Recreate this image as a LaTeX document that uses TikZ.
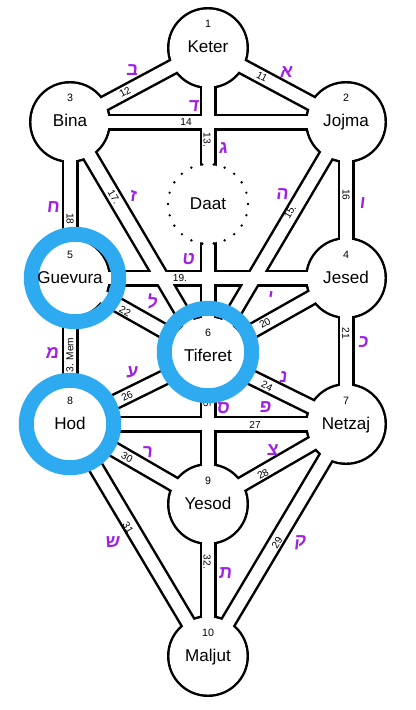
\documentclass[tikz,border=0pt]{standalone}
\usepackage{fontspec}
\setmainfont{Liberation Sans}
\newfontfamily\hebreo[Script=Hebrew,FakeSlant=0.12]{Liberation Sans Bold}
\usepackage{tikz}
\usepackage{xcolor}
\TeXXeTstate=1
\definecolor{morado}{RGB}{160,32,230}
\definecolor{celeste}{RGB}{46,170,240}
\tikzstyle{nombre} = [font=\fontsize{12.8}{14}\selectfont, anchor=base, inner sep=0pt]
\tikzstyle{numero} = [font=\fontsize{8}{9}\selectfont, anchor=base, inner sep=0pt]
\tikzstyle{sendero} = [font=\fontsize{7.6}{9}\selectfont, inner sep=0pt]
\tikzstyle{letra} = [font=\hebreo\fontsize{13.5}{15}\selectfont, text=morado, inner sep=0pt]
\tikzstyle{anillo} = [draw=celeste, line width=11.25pt]
\newcommand{\heb}[1]{\beginR #1\endR}

\begin{document}
\begin{tikzpicture}[x=0.75pt,y=-0.75pt]
  \useasboundingbox (0,0) rectangle (415,710);
  \coordinate (keter) at (208,48);
  \coordinate (bina) at (70,122);
  \coordinate (jojma) at (346,122);
  \coordinate (daat) at (208,204);
  \coordinate (guevura) at (70,278);
  \coordinate (jesed) at (346,278);
  \coordinate (tiferet) at (208,356);
  \coordinate (hod) at (70,424);
  \coordinate (netzaj) at (346,424);
  \coordinate (yesod) at (208,504);
  \coordinate (maljut) at (208,656);
  \def\senderos{keter/jojma,keter/bina,keter/tiferet,bina/jojma,jojma/tiferet,jojma/jesed,bina/tiferet,bina/guevura,guevura/jesed,jesed/tiferet,jesed/netzaj,guevura/tiferet,guevura/hod,tiferet/netzaj,tiferet/yesod,hod/tiferet,hod/netzaj,netzaj/yesod,netzaj/maljut,hod/yesod,hod/maljut,yesod/maljut}
  \def\sefirot{keter,bina,jojma,guevura,jesed,tiferet,hod,netzaj,yesod,maljut}

  % canales: borde negro, luego el interior blanco
  \foreach \a/\b in \senderos \draw[line width=12.75pt] (\a) -- (\b);
  \foreach \s in \sefirot \fill (\s) circle (30.75pt);
  \foreach \a/\b in \senderos \draw[white, line width=9pt] (\a) -- (\b);
  \foreach \s in \sefirot \fill[white] (\s) circle (28.9pt);
  \fill[white] (daat) circle (29.25pt);
  \draw[line width=2pt, line cap=round, dash pattern=on 0pt off 8.568pt] (daat) circle (30pt);

  % numeros de los senderos
  \node[sendero, rotate=-28] (s11) at (262,77) {11};
  \node[sendero, rotate=28] (s12) at (125,92) {12};
  \node[sendero, rotate=-90] (s13) at (207,140) {13.};
  \node[sendero] (s14) at (186,122) {14};
  \node[sendero, rotate=59.4] (s15) at (290,212) {15.};
  \node[sendero, rotate=-90] (s16) at (346,195) {16};
  \node[sendero, rotate=-59.4] (s17) at (114,197) {17.};
  \node[sendero, rotate=-90] (s18) at (70,219) {18};
  \node[sendero] (s19) at (180,278) {19.};
  \node[sendero, rotate=29.5] (s20) at (265,323) {20};
  \node[sendero, rotate=-90] (s21) at (346,333) {21};
  \node[sendero, rotate=-29.5] (s22) at (125,311) {22};
  \node[sendero, rotate=90] (s23) at (70,358) {23. Mem};
  \node[sendero, rotate=-26.6] (s24) at (267,386) {24};
  \node[sendero, rotate=-90] (s25) at (207,401) {25};
  \node[sendero, rotate=26.6] (s26) at (127,396) {26};
  \node[sendero] (s27) at (255,425) {27};
  \node[sendero, rotate=29.5] (s28) at (263,474) {28};
  \node[sendero, rotate=59.3] (s29) at (277,543) {29};
  \node[sendero, rotate=-29.5] (s30) at (127,457) {30};
  \node[sendero, rotate=-59.3] (s31) at (128,528) {31};
  \node[sendero, rotate=-90] (s32) at (207,562) {32.};

  % anillos
  \draw[anillo] ([xshift=3.75pt]guevura) circle (32.8pt);
  \draw[anillo] ([yshift=3pt]tiferet) circle (32.8pt);
  \draw[anillo] (hod) circle (32.8pt);

  % nombres y numeros de las sefirot
  \node[nombre] (Keter) at ([yshift=-3.75pt]keter) {Keter};
  \node[nombre] (Bina) at ([yshift=-3.75pt]bina) {Bina};
  \node[nombre] (Jojma) at ([yshift=-3.75pt]jojma) {Jojma};
  \node[nombre] (Daat) at ([yshift=-3.75pt]daat) {Daat};
  \node[nombre] (Guevura) at ([yshift=-3.75pt]guevura) {Guevura};
  \node[nombre] (Jesed) at ([yshift=-3.75pt]jesed) {Jesed};
  \node[nombre] (Tiferet) at ([yshift=-3.75pt]tiferet) {Tiferet};
  \node[nombre] (Hod) at ([yshift=-3.75pt]hod) {Hod};
  \node[nombre] (Netzaj) at ([yshift=-3.75pt]netzaj) {Netzaj};
  \node[nombre] (Yesod) at ([yshift=-3.75pt]yesod) {Yesod};
  \node[nombre] (Maljut) at ([yshift=-3.75pt]maljut) {Maljut};
  \node[numero] (n1) at ([yshift=15pt]keter) {1};
  \node[numero] (n2) at ([yshift=15pt]jojma) {2};
  \node[numero] (n3) at ([yshift=15pt]bina) {3};
  \node[numero] (n4) at ([yshift=15pt]jesed) {4};
  \node[numero] (n5) at ([yshift=15pt]guevura) {5};
  \node[numero] (n6) at ([yshift=15pt]tiferet) {6};
  \node[numero] (n7) at ([yshift=15pt]netzaj) {7};
  \node[numero] (n8) at ([yshift=15pt]hod) {8};
  \node[numero] (n9) at ([yshift=15pt]yesod) {9};
  \node[numero] (n10) at ([yshift=15pt]maljut) {10};

  % letras
  \node[letra] (l11) at (286,72) {\heb{א}};
  \node[letra] (l12) at (132,70) {\heb{ב}};
  \node[letra] (l13) at (223,148) {\heb{ג}};
  \node[letra] (l14) at (193,106) {\heb{ד}};
  \node[letra] (l15) at (282,194) {\heb{ה}};
  \node[letra] (l16) at (362,203) {\heb{ו}};
  \node[letra] (l17) at (133,196) {\heb{ז}};
  \node[letra] (l18) at (53,207) {\heb{ח}};
  \node[letra] (l19) at (188,259) {\heb{ט}};
  \node[letra] (l20) at (270,297) {\heb{י}};
  \node[letra] (l21) at (363,342) {\heb{כ}};
  \node[letra] (l22) at (152,301) {\heb{ל}};
  \node[letra] (l23) at (52,353) {\heb{מ}};
  \node[letra] (l24) at (283,377) {\heb{נ}};
  \node[letra] (l25) at (223,408) {\heb{ס}};
  \node[letra] (l26) at (132,372) {\heb{ע}};
  \node[letra] (l27) at (265,407) {\heb{פ}};
  \node[letra] (l28) at (272,450) {\heb{צ}};
  \node[letra] (l29) at (300,543) {\heb{ק}};
  \node[letra] (l30) at (147,452) {\heb{ר}};
  \node[letra] (l31) at (112,542) {\heb{ש}};
  \node[letra] (l32) at (225,573) {\heb{ת}};
\end{tikzpicture}
\end{document}
